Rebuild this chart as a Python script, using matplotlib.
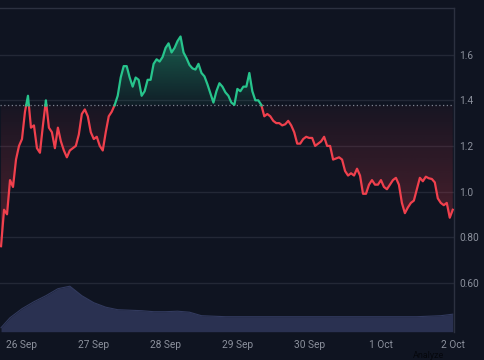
import numpy as np
import pandas as pd
import matplotlib
matplotlib.use("Agg")
import matplotlib.pyplot as plt
import matplotlib.dates as mdates
from matplotlib.path import Path
from matplotlib.colors import to_rgb

# ---------------- data ----------------
start_time = "2024-09-25 17:00"
prices = [
    0.76, 0.92, 0.90, 1.05, 1.02, 1.14, 1.20, 1.23, 1.35, 1.42,   # -7 .. 2
    1.28, 1.29, 1.19, 1.17, 1.29, 1.40, 1.28, 1.26, 1.19, 1.28,   # 3 .. 12
    1.22, 1.18, 1.15, 1.18, 1.19, 1.20, 1.25, 1.34, 1.36, 1.33,   # 13 .. 22
    1.26, 1.23, 1.24, 1.20, 1.18, 1.26, 1.33, 1.35, 1.38, 1.42,   # 23 .. 32
    1.50, 1.55, 1.55, 1.50, 1.46, 1.50, 1.49, 1.42, 1.44, 1.49,   # 33 .. 42
    1.49, 1.56, 1.58, 1.57, 1.59, 1.63, 1.65, 1.61, 1.63, 1.66,   # 43 .. 52
    1.68, 1.61, 1.585, 1.555, 1.54, 1.535, 1.56, 1.52, 1.505, 1.47,  # 53 .. 62
    1.43, 1.39, 1.44, 1.475, 1.46, 1.435, 1.42, 1.39, 1.38, 1.45,    # 63 .. 72
    1.44, 1.46, 1.46, 1.52, 1.44, 1.40, 1.40, 1.38, 1.33, 1.34,      # 73 .. 82
    1.33, 1.31, 1.30, 1.30, 1.29, 1.295, 1.31, 1.29, 1.26, 1.21,     # 83 .. 92
    1.21, 1.23, 1.24, 1.235, 1.235, 1.20, 1.21, 1.22, 1.24, 1.20,    # 93 .. 102
    1.20, 1.14, 1.145, 1.15, 1.14, 1.09, 1.07, 1.08, 1.07, 1.10,     # 103 .. 112
    1.07, 0.99, 0.99, 1.03, 1.05, 1.03, 1.03, 1.05, 1.02, 1.01,      # 113 .. 122
    1.03, 1.05, 1.06, 1.03, 0.95, 0.905, 0.93, 0.95, 0.96, 1.01,     # 123 .. 132
    1.06, 1.045, 1.065, 1.058, 1.055, 1.04, 0.97, 0.95, 0.94, 0.95,  # 133 .. 142
    0.885, 0.92,                                                     # 143 .. 144
]
baseline_value = 1.378

volume_times = ["2024-09-25 17:00", "2024-09-25 20:00", "2024-09-26 00:00",
                "2024-09-26 04:00", "2024-09-26 08:00", "2024-09-26 12:00",
                "2024-09-26 16:00", "2024-09-26 20:00", "2024-09-27 00:00",
                "2024-09-27 04:00", "2024-09-27 08:00", "2024-09-27 12:00",
                "2024-09-27 16:00", "2024-09-27 20:00", "2024-09-28 00:00",
                "2024-09-28 04:00", "2024-09-28 08:00", "2024-09-28 12:00",
                "2024-09-28 16:00", "2024-09-28 20:00", "2024-09-29 12:00",
                "2024-09-30 12:00", "2024-10-01 12:00", "2024-10-01 16:00",
                "2024-10-01 20:00", "2024-10-02 00:00"]
volume_values = [4, 14, 23, 30, 36, 43, 45.5, 36, 29, 24.5, 22, 21.5, 21, 20,
                 20, 20.5, 19.5, 16, 15.5, 15, 15, 15, 15, 15.5, 16, 17.5]

day_ticks = ["2024-09-26", "2024-09-27", "2024-09-28", "2024-09-29",
             "2024-09-30", "2024-10-01", "2024-10-02"]
day_labels = ["26 Sep", "27 Sep", "28 Sep", "29 Sep", "30 Sep", "1 Oct", "2 Oct"]
price_ticks = [0.6, 0.8, 1.0, 1.2, 1.4, 1.6]
price_labels = ["0.60", "0.80", "1.0", "1.2", "1.4", "1.6"]

# ---------------- styling ----------------
BG = "#0f1421"
GRID = "#232836"
FRAME = "#2c3140"
TXT = "#8b909c"
GREEN = "#27c48c"
RED = "#f0404d"
VOL = "#2a3151"
plt.rcParams["font.family"] = ["Roboto", "DejaVu Sans"]

t = pd.date_range(start_time, periods=len(prices), freq="h")
tn = mdates.date2num(t.to_pydatetime())
v = np.array(prices)
vt = mdates.date2num(pd.to_datetime(volume_times).to_pydatetime())
vv = np.array(volume_values)

fig = plt.figure(figsize=(4.85, 3.6), dpi=100, facecolor=BG)
ax = fig.add_axes([0.0, 1 - 331.7 / 360, 454 / 485, (331.7 - 8) / 360])
ax.set_facecolor(BG)

x_left = tn[0] - 0.35 / 24
x_right = mdates.date2num(pd.Timestamp("2024-10-02 00:25"))
ylo, yhi = 0.385, 1.805
ax.set_xlim(x_left, x_right)
ax.set_ylim(ylo, yhi)

# volume on a twin axis
axv = ax.twinx()
axv.set_ylim(0, 323.7)
axv.fill_between(vt, vv, 0, color=VOL, lw=0, zorder=1)
axv.plot(vt, vv, color="#323a5e", lw=0.8, zorder=1)
axv.set_yticks([])
for s in axv.spines.values():
    s.set_visible(False)
axv.set_zorder(0)
ax.set_zorder(1)
ax.patch.set_visible(False)
fig.patches.append(plt.Rectangle((0, 0), 1, 1, transform=fig.transFigure,
                                 color=BG, zorder=-10))

# grid
for p in price_ticks:
    ax.axhline(p, color=GRID, lw=1.0, zorder=0)

# gradient fills
def gradient_fill(where, color, a_top, a_bot, y0, y1):
    coll = ax.fill_between(tn, v, baseline_value, where=where,
                           interpolate=True, facecolor="none",
                           edgecolor="none")
    paths = coll.get_paths()
    if not paths:
        return
    comp = Path.make_compound_path(*paths)
    n = 256
    rgba = np.zeros((n, 1, 4))
    rgba[:, 0, :3] = to_rgb(color)
    rgba[:, 0, 3] = np.linspace(a_top, a_bot, n)
    im = ax.imshow(rgba, extent=[x_left, x_right, y0, y1], aspect="auto",
                   origin="upper", zorder=2, interpolation="bilinear")
    im.set_clip_path(comp, ax.transData)

gradient_fill(v >= baseline_value, GREEN, 0.42, 0.06, baseline_value, v.max())
gradient_fill(v <= baseline_value, RED, 0.04, 0.30, v.min(), baseline_value)

# line split at the baseline crossings
segs_x = [tn[0]]
segs_y = [v[0]]
for i in range(1, len(v)):
    a, b = v[i - 1], v[i]
    if (a - baseline_value) * (b - baseline_value) < 0:
        f = (baseline_value - a) / (b - a)
        segs_x.append(tn[i - 1] + f * (tn[i] - tn[i - 1]))
        segs_y.append(baseline_value)
    segs_x.append(tn[i])
    segs_y.append(b)
segs_x = np.array(segs_x)
segs_y = np.array(segs_y)
hi = np.where(segs_y >= baseline_value, segs_y, np.nan)
lo = np.where(segs_y <= baseline_value, segs_y, np.nan)
ax.plot(segs_x, lo, color=RED, lw=1.6, zorder=4, solid_joinstyle="round")
ax.plot(segs_x, hi, color=GREEN, lw=1.6, zorder=5, solid_joinstyle="round")

ax.axhline(baseline_value, color="#7d8290", lw=0.9, ls=(0, (1, 2)), zorder=3)

# axes
ax.yaxis.tick_right()
ax.set_yticks(price_ticks)
ax.set_yticklabels(price_labels)
ax.set_xticks(mdates.date2num(pd.to_datetime(day_ticks).to_pydatetime()))
ax.set_xticklabels(day_labels)
ax.tick_params(axis="both", colors=TXT, labelsize=7.3, length=0)
ax.tick_params(axis="y", pad=4)
ax.tick_params(axis="x", pad=6)
for lab in ax.get_xticklabels() + ax.get_yticklabels():
    lab.set_color(TXT)
for name, s in ax.spines.items():
    if name in ("top", "right"):
        s.set_color(FRAME)
        s.set_linewidth(1.0)
    else:
        s.set_visible(False)

fig.text(413 / 485, 0.5 / 360, "Analyze", color="#05070c", fontsize=6.5,
         ha="left", va="bottom")

fig.savefig("out.png", dpi=100, facecolor=BG)
